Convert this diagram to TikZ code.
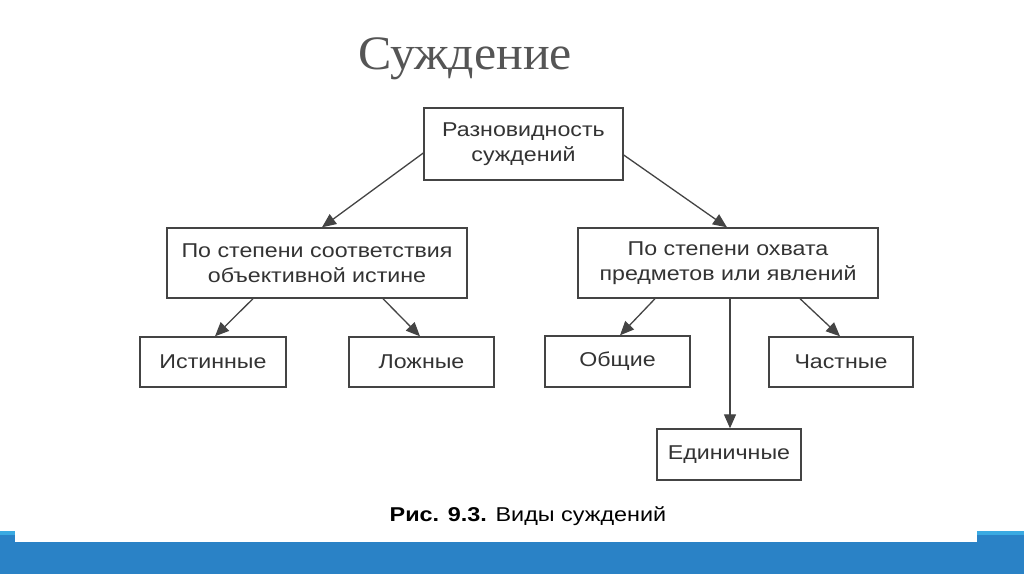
\documentclass[tikz,border=0pt]{standalone}
\usepackage{fontspec}
\setmainfont{Liberation Sans}[FakeStretch=1.16]
\newfontfamily\titlefont{Liberation Serif}[FakeStretch=1.04]
\newfontfamily\capfont{Liberation Sans}[FakeStretch=1.17]
\usetikzlibrary{arrows.meta}
\definecolor{boxline}{HTML}{444444}
\definecolor{txt}{HTML}{333333}
\definecolor{bandblue}{HTML}{2A82C6}
\definecolor{stripblue}{HTML}{3AAAE2}
\definecolor{titlegray}{HTML}{555555}
\tikzset{
  box/.style={draw=boxline, line width=1.4pt, fill=white, inner sep=0pt, text=txt,
    font=\fontsize{20}{25}\selectfont, align=center},
  arr/.style={draw=boxline, line width=1.3pt, -{Triangle[length=14pt,width=12pt]}}
}
\begin{document}
\begin{tikzpicture}[x=1pt,y=-1pt]
\useasboundingbox (0,0) rectangle (1024,574);
\fill[white] (0,0) rectangle (1024,574);
% bottom band
\fill[stripblue] (0,531) rectangle (15,536);
\fill[stripblue] (977,531) rectangle (1024,536);
\fill[bandblue] (0,535) rectangle (15,542);
\fill[bandblue] (977,535) rectangle (1024,542);
\fill[bandblue] (0,542) rectangle (1024,574);
% title
\node[text=titlegray, font=\titlefont\fontsize{48}{52}\selectfont] (title) at (465,59) {Суждение};
% boxes
\node[box, minimum width=199pt, minimum height=72pt] (top) at (523.5,144) {Разновидность\\суждений};
\node[box, minimum width=300pt, minimum height=70pt] (lm) at (317,263) {По степени соответствия\\объективной истине};
\node[box, minimum width=300pt, minimum height=70pt] (rm) at (728,263) {По степени охвата\\предметов или явлений};
\node[box, minimum width=146pt, minimum height=50pt] (ist) at (213,362) {Истинные};
\node[box, minimum width=145pt, minimum height=50pt] (lozh) at (421.5,362) {Ложные};
\node[box, minimum width=145pt, minimum height=51pt] (obsh) at (617.5,361.5) {Общие};
\node[box, minimum width=144pt, minimum height=50pt] (chast) at (841,362) {Частные};
\node[box, minimum width=144pt, minimum height=51pt] (edin) at (729,454.5) {Единичные};
% connectors
\draw[arr] ([yshift=-9pt]top.west) -- ([xshift=5pt]lm.north);
\draw[arr] ([yshift=-11pt]top.east) -- ([xshift=-1pt]rm.north);
\draw[arr] ([xshift=-64pt]lm.south) -- ([xshift=2pt]ist.north);
\draw[arr] ([xshift=66pt]lm.south) -- ([xshift=-1.5pt]lozh.north);
\draw[arr] ([xshift=-73pt]rm.south) -- ([xshift=2.5pt]obsh.north);
\draw[arr] ([xshift=72pt]rm.south) -- ([xshift=-1pt]chast.north);
\draw[arr] ([xshift=2pt]rm.south) -- ([xshift=1pt]edin.north);
% caption
\node[text=black, font=\capfont\fontsize{20}{24}\selectfont] (cap) at (528,516) {\textbf{Рис. 9.3.} Виды суждений};
\end{tikzpicture}
\end{document}
